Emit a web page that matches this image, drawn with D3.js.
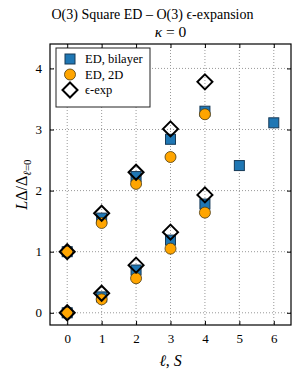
<!DOCTYPE html>
<html>
<head>
<meta charset="utf-8">
<script src="https://cdn.jsdelivr.net/npm/d3@7"></script>
<style>
  body { margin: 0; background: #fff; }
  svg text { font-family: "Liberation Serif", "DejaVu Serif", serif; fill: #000; }
</style>
</head>
<body>
<svg class="chart"></svg>
<script>
var width = 305,
    height = 382;

// data
var bilayerL = [0, 0, 1, 1, 2, 2, 3, 3, 4, 4, 5, 6];
var bilayerV = [0, 1, 0.26, 1.55, 0.70, 2.23, 1.19, 2.84, 1.78, 3.30, 2.41, 3.11];
var ed2dL = [0, 0, 1, 1, 2, 2, 3, 3, 4, 4];
var ed2dV = [0, 1, 0.22, 1.47, 0.565, 2.11, 1.05, 2.55, 1.64, 3.25];
var epsL = [0, 0, 1, 1, 2, 2, 3, 3, 4, 4];
var epsV = [0, 1, 0.32, 1.63, 0.78, 2.30, 1.32, 3.01, 1.93, 3.78];
var xTicks = [0, 1, 2, 3, 4, 5, 6];
var yTicks = [0, 1, 2, 3, 4];
var legendLabels = ["ED, bilayer", "ED, 2D", "\u03f5-exp"];

var pL = 50, pR = 291, pT = 44, pB = 325;

var x = d3.scaleLinear().domain([-0.5, 6.5]).range([pL, pR]);
var y = d3.scaleLinear().domain([-0.2, 4.4]).range([pB, pT]);

var chart = d3.select(".chart")
    .attr("width", width)
    .attr("height", height);

// grid
chart.append("g").selectAll("line")
    .data(xTicks).enter().append("line")
    .attr("x1", function(d) { return x(d); })
    .attr("x2", function(d) { return x(d); })
    .attr("y1", pT).attr("y2", pB)
    .attr("stroke", "#999").attr("stroke-width", 1)
    .attr("stroke-dasharray", "1,2");
chart.append("g").selectAll("line")
    .data(yTicks).enter().append("line")
    .attr("y1", function(d) { return y(d); })
    .attr("y2", function(d) { return y(d); })
    .attr("x1", pL).attr("x2", pR)
    .attr("stroke", "#999").attr("stroke-width", 1)
    .attr("stroke-dasharray", "1,2");

// axes, ticks inward
var fmt = d3.format("d");
var gx = chart.append("g").attr("transform", "translate(0," + pB + ")")
    .call(d3.axisBottom(x).tickValues(xTicks).tickFormat(fmt).tickSizeInner(-4).tickSizeOuter(0).tickPadding(9));
var gxt = chart.append("g").attr("transform", "translate(0," + pT + ")")
    .call(d3.axisTop(x).tickValues(xTicks).tickSizeInner(-4).tickSizeOuter(0).tickFormat(""));
var gy = chart.append("g").attr("transform", "translate(" + pL + ",0)")
    .call(d3.axisLeft(y).tickValues(yTicks).tickFormat(fmt).tickSizeInner(-4).tickSizeOuter(0).tickPadding(8));
var gyr = chart.append("g").attr("transform", "translate(" + pR + ",0)")
    .call(d3.axisRight(y).tickValues(yTicks).tickSizeInner(-4).tickSizeOuter(0).tickFormat(""));

[gx, gxt, gy, gyr].forEach(function(g) {
    g.attr("font-family", null);
    g.select(".domain").remove();
    g.selectAll("line").attr("stroke", "#000");
    g.selectAll("text").style("font-size", "13px").attr("fill", "#000");
});

// markers: squares, then circles, then diamonds
var sq = 10;
chart.append("g").selectAll("rect")
    .data(bilayerL).enter().append("rect")
    .attr("x", function(d) { return x(d) - sq / 2; })
    .attr("y", function(d, i) { return y(bilayerV[i]) - sq / 2; })
    .attr("width", sq).attr("height", sq)
    .attr("fill", "#1f77b4").attr("stroke", "#173a57").attr("stroke-width", 1);

chart.append("g").selectAll("circle")
    .data(ed2dL).enter().append("circle")
    .attr("cx", function(d) { return x(d); })
    .attr("cy", function(d, i) { return y(ed2dV[i]); })
    .attr("r", 5.5)
    .attr("fill", "#ffa500").attr("stroke", "#4a3a10").attr("stroke-width", 0.8);

var dm = 7.5;
function diamond(cx, cy) {
    return "M" + cx + "," + (cy - dm) + "L" + (cx + dm) + "," + cy + "L" + cx + "," + (cy + dm) + "L" + (cx - dm) + "," + cy + "Z";
}
chart.append("g").selectAll("path")
    .data(epsL).enter().append("path")
    .attr("d", function(d, i) { return diamond(x(d), y(epsV[i])); })
    .attr("fill", "none").attr("stroke", "#000").attr("stroke-width", 2);

// frame
chart.append("rect")
    .attr("x", pL).attr("y", pT)
    .attr("width", pR - pL).attr("height", pB - pT)
    .attr("fill", "none").attr("stroke", "#000").attr("stroke-width", 1.2);

// legend
var lg = chart.append("g");
lg.append("rect")
    .attr("x", 56).attr("y", 48).attr("width", 94).attr("height", 59)
    .attr("fill", "#fff").attr("stroke", "#222").attr("stroke-width", 1);
var ly = [59, 74.5, 90];
lg.append("rect").attr("x", 70 - sq / 2).attr("y", ly[0] - sq / 2).attr("width", sq).attr("height", sq)
    .attr("fill", "#1f77b4").attr("stroke", "#173a57").attr("stroke-width", 1);
lg.append("circle").attr("cx", 70).attr("cy", ly[1]).attr("r", 5.5)
    .attr("fill", "#ffa500").attr("stroke", "#4a3a10").attr("stroke-width", 0.8);
lg.append("path").attr("d", diamond(70, ly[2]))
    .attr("fill", "#fff").attr("stroke", "#000").attr("stroke-width", 2);
lg.selectAll("text.lab")
    .data(legendLabels).enter().append("text")
    .attr("class", "lab")
    .attr("x", 85)
    .attr("y", function(d, i) { return ly[i] + 4; })
    .style("font-size", "12.5px")
    .text(function(d) { return d; });

// titles
chart.append("text")
    .attr("x", width / 2).attr("y", 19)
    .attr("text-anchor", "middle")
    .style("font-size", "14px")
    .text("O(3) Square ED \u2013 O(3) \u03f5-expansion");
chart.append("text")
    .attr("x", (pL + pR) / 2).attr("y", 37)
    .attr("text-anchor", "middle")
    .style("font-size", "15.5px")
    .html("<tspan font-style='italic'>\u03ba</tspan> = 0");

// axis labels
chart.append("text")
    .attr("x", (pL + pR) / 2).attr("y", 366)
    .attr("text-anchor", "middle")
    .style("font-size", "16px")
    .html("<tspan font-style='italic'>\u2113</tspan>, <tspan font-style='italic'>S</tspan>");
chart.append("text")
    .attr("transform", "translate(27," + ((pT + pB) / 2) + ") rotate(-90)")
    .attr("text-anchor", "middle")
    .style("font-size", "16px")
    .html("<tspan font-style='italic'>L</tspan>\u0394/\u0394<tspan font-size='11px' dy='4'><tspan font-style='italic'>\u2113</tspan>=0</tspan>");
</script>
</body>
</html>
